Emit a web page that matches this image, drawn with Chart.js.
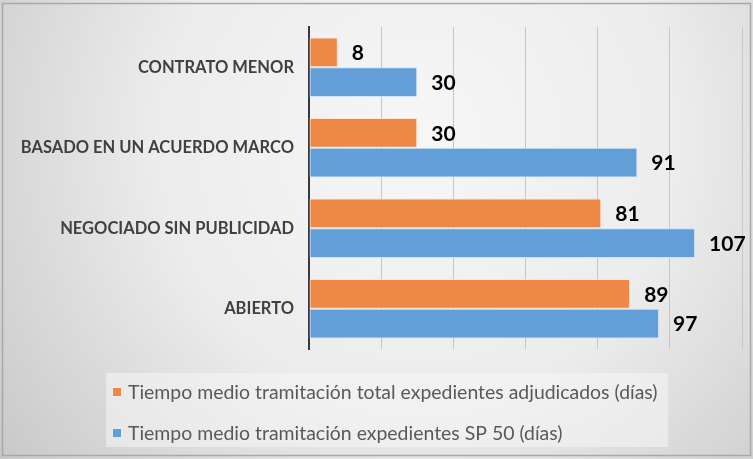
<!DOCTYPE html>
<html>
<head>
<meta charset="utf-8">
<script src="https://cdn.jsdelivr.net/npm/chart.js@4/dist/chart.umd.min.js"></script>
<style>
html,body{margin:0;padding:0;background:#e6e6e6;}
#wrap{width:753px;height:459px;position:relative;}
</style>
</head>
<body>
<div id="wrap"><canvas id="c"></canvas></div>
<script>
const categories = ["CONTRATO MENOR", "BASADO EN UN ACUERDO MARCO", "NEGOCIADO SIN PUBLICIDAD", "ABIERTO"];
const seriesNames = ["Tiempo medio tramitación total expedientes adjudicados (días)", "Tiempo medio tramitación expedientes SP 50 (días)"];
const totalAdjudicados = [8, 30, 81, 89];
const sp50 = [30, 91, 107, 97];
const axisMin = 0, axisMax = 120, axisStep = 20;

const ORANGE = '#ED8846';
const BLUE = '#629ED7';

const bgPlugin = {
  id: 'bg',
  beforeDraw(chart) {
    const ctx = chart.ctx, w = chart.width, h = chart.height;
    ctx.save();
    const g = ctx.createRadialGradient(420, 140, 20, 420, 140, 560);
    g.addColorStop(0, '#f6f6f6');
    g.addColorStop(0.45, '#ececec');
    g.addColorStop(1, '#c4c4c4');
    ctx.fillStyle = g;
    ctx.fillRect(0, 0, w, h);
    ctx.strokeStyle = '#a8a8a8';
    ctx.lineWidth = 1.5;
    ctx.strokeRect(2.5, 3.5, w - 5, h - 7);
    ctx.restore();
  },
  afterDatasetsDraw(chart) {
    const ctx = chart.ctx;
    ctx.save();
    ctx.font = 'bold 21px Lato, "Liberation Sans", sans-serif';
    ctx.fillStyle = '#000';
    ctx.textAlign = 'left';
    ctx.textBaseline = 'middle';
    chart.data.datasets.forEach((ds, di) => {
      const meta = chart.getDatasetMeta(di);
      meta.data.forEach((bar, i) => {
        ctx.fillText(String(ds.data[i]), bar.x + 14, bar.y + 1);
      });
    });
    ctx.restore();
  },
  afterDraw(chart) {
    const ctx = chart.ctx;
    ctx.save();
    ctx.fillStyle = 'rgba(246,246,246,0.55)';
    ctx.fillRect(106, 373, 562, 74);
    const colors = [ORANGE, BLUE];
    const ys = [392, 433];
    ctx.font = '17px Lato, "Liberation Sans", sans-serif';
    const wAt17 = ctx.measureText(seriesNames[0]).width;
    const fs = 17 * 530 / wAt17;
    ctx.font = fs.toFixed(2) + 'px Lato, "Liberation Sans", sans-serif';
    ctx.textBaseline = 'middle';
    ctx.textAlign = 'left';
    seriesNames.forEach((name, i) => {
      ctx.fillStyle = colors[i];
      ctx.fillRect(113, ys[i] - 4, 8, 8);
      ctx.fillStyle = '#595959';
      ctx.fillText(name, 128, ys[i] + 1);
    });
    ctx.restore();
  }
};

new Chart(document.getElementById('c'), {
  type: 'bar',
  data: {
    labels: categories,
    datasets: [
      { label: seriesNames[0], data: totalAdjudicados, backgroundColor: ORANGE, borderColor: 'rgba(255,225,200,0.9)', borderWidth: 1, borderSkipped: false },
      { label: seriesNames[1], data: sp50, backgroundColor: BLUE, borderColor: 'rgba(200,225,250,0.9)', borderWidth: 1, borderSkipped: false }
    ]
  },
  options: {
    indexAxis: 'y',
    responsive: true,
    maintainAspectRatio: false,
    animation: false,
    layout: { padding: { left: 0, right: 11, top: 27, bottom: 110 } },
    plugins: { legend: { display: false }, tooltip: { enabled: false } },
    datasets: { bar: { categoryPercentage: 0.74, barPercentage: 1.0 } },
    scales: {
      x: {
        min: axisMin, max: axisMax,
        ticks: { display: false, stepSize: axisStep },
        grid: { color: '#c6c6c6', lineWidth: 1, drawTicks: false },
        border: { display: false },
        afterFit(scale) { scale.height = 0; }
      },
      y: {
        ticks: { color: '#404040', padding: 15, font: { family: 'Lato, "Liberation Sans", sans-serif', size: 16.5, weight: 'bold' } },
        grid: { display: false, drawTicks: false },
        border: { display: true, color: '#3a3a3a', width: 2 },
        afterFit(scale) { scale.width = 309; }
      }
    }
  },
  plugins: [bgPlugin]
});
</script>
</body>
</html>
